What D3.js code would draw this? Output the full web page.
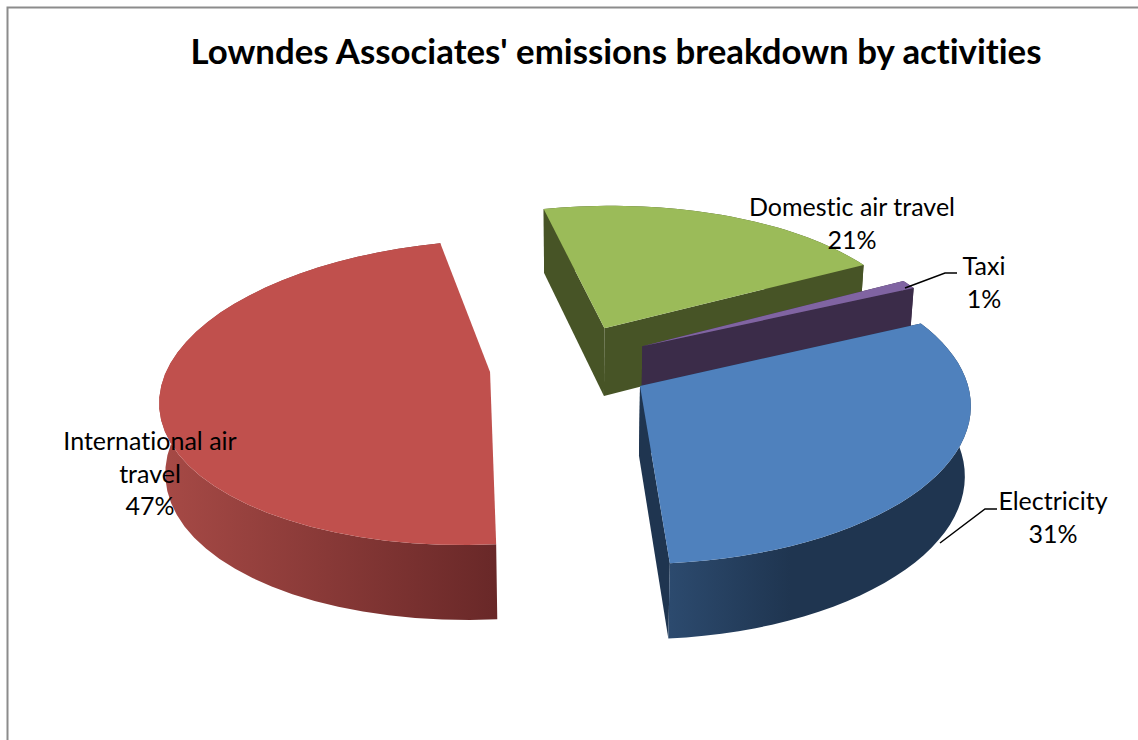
<html>
<meta charset="utf-8">

<head>
    <script src="https://d3js.org/d3.v7.min.js"></script>
    <style>
        html, body {
            margin: 0;
            background: #fff;
        }

        svg {
            display: block;
        }

        text {
            font-family: Lato, "Open Sans", sans-serif;
            font-variant-ligatures: none;
            fill: #000;
        }

        .sliceLabel {
            font-size: 25px;
            text-anchor: middle;
        }
    </style>
</head>

<body>
    <svg id="chart" width="1138" height="740"></svg>

    <script>
        // data, the labels show these rounded
        const categories = ["Electricity", "International air travel", "Domestic air travel", "Taxi"];
        const shares = [30.7, 47.49, 20.81, 1.0];

        // colours per category
        const topColors = ["#4f81bd", "#c0504d", "#9bbb59", "#8064a2"];
        const wallColors = ["#1f3550", "#6b2929", "#475426", "#3b2c49"];
        const rimLight = ["#2c4a6e", "#a74a46", "#475426", "#3b2c49"];
        const rimDark = ["#1f3550", "#692828", "#475426", "#3b2c49"];

        const svg = d3.select("svg#chart");

        // frame
        svg.append("path").attr("d", "M7.5,740V7.5H1138")
            .attr("fill", "none").attr("stroke", "#8c8c8c").attr("stroke-width", 2);

        svg.append("text").text("Lowndes Associates' emissions breakdown by activities")
            .attr("x", 616).attr("y", 64)
            .attr("text-anchor", "middle")
            .style("font-size", "34.8px").style("font-weight", "bold");

        // projection of the tilted pie, unit disc -> screen
        const cx = 570.5, cy = 365, rx = 322, ry = 148, persp = 0.134, shear = 12;
        const explodeX = 0.25, explodeY = 0.28, depth = 69, shrinkX = 0.985, shrinkY = 0.97;

        const project = function (X, Y, z) {
            const s = 1 / (1 + persp * Y);
            const fx = 1 - (1 - shrinkX) * z;
            const fy = 1 - (1 - shrinkY) * z;
            return [cx + (rx * X + shear * Y) * s * fx, cy - ry * Y * s * fy + depth * z * s];
        };

        const startDeg = 64.5;
        const pie = d3.pie().sort(null)
            .startAngle(startDeg * Math.PI / 180)
            .endAngle((startDeg + 360) * Math.PI / 180);
        const slices = pie(shares);
        slices.forEach((d, i) => { d.index = i; });

        const lineGen = d3.line();

        const rimPoints = function (d, z) {
            const mid = (d.startAngle + d.endAngle) / 2;
            const ox = explodeX * Math.sin(mid), oy = explodeY * Math.cos(mid);
            return d3.range(0, 41).map(k => {
                const a = d.startAngle + (d.endAngle - d.startAngle) * k / 40;
                return project(ox + Math.sin(a), oy + Math.cos(a), z);
            });
        };
        const apexPoint = function (d, z) {
            const mid = (d.startAngle + d.endAngle) / 2;
            return project(explodeX * Math.sin(mid), explodeY * Math.cos(mid), z);
        };

        // gradients along the outer wall
        const defs = svg.append("defs");
        slices.forEach((d, i) => {
            const xs = d3.extent(rimPoints(d, 0).filter(p => p[1] > cy), p => p[0]);
            const grad = defs.append("linearGradient")
                .attr("id", "rim" + i)
                .attr("gradientUnits", "userSpaceOnUse")
                .attr("x1", xs[0] || 0).attr("x2", xs[1] || 1)
                .attr("y1", 0).attr("y2", 0);
            grad.append("stop").attr("offset", 0).attr("stop-color", rimLight[i]);
            if (i == 0) {
                grad.append("stop").attr("offset", 0.4).attr("stop-color", rimDark[i]);
            }
            grad.append("stop").attr("offset", 1).attr("stop-color", rimDark[i]);
        });

        // far slices first
        const drawOrder = [2, 3, 1, 0];
        const sliceGroups = svg.selectAll("g.slice")
            .data(drawOrder.map(i => slices[i]))
            .join("g")
            .attr("class", "slice");

        sliceGroups.each(function (d) {
            const g = d3.select(this);
            const i = d.index;
            const topRim = rimPoints(d, 0);
            const botRim = rimPoints(d, 1);
            const a0 = apexPoint(d, 0), a1 = apexPoint(d, 1);

            // cut walls, the red slice's face away from the viewer
            if (i != 1) {
                [0, topRim.length - 1].forEach(e => {
                    g.append("path")
                        .attr("d", lineGen([a0, topRim[e], botRim[e], a1]) + "Z")
                        .attr("fill", wallColors[i]);
                });
            }
            // outer wall
            g.append("path")
                .attr("d", lineGen(topRim.concat(botRim.slice().reverse())) + "Z")
                .attr("fill", `url(#rim${i})`);
            // top face
            g.append("path")
                .attr("d", lineGen([a0].concat(topRim)) + "Z")
                .attr("fill", topColors[i]);
        });

        // leader lines
        const leaders = [
            [[940, 543], [985, 509], [997, 509]],
            [[905, 288], [945, 273], [957, 273]]
        ];
        svg.selectAll("path.leader").data(leaders).join("path")
            .attr("class", "leader")
            .attr("d", lineGen)
            .attr("fill", "none")
            .attr("stroke", "#000")
            .attr("stroke-width", 1.5);

        // labels: wrapped lines of category name, then share
        const labelLines = [["Electricity"], ["International air", "travel"], ["Domestic air travel"], ["Taxi"]];
        const labelX = [1053, 150, 852, 984];
        const labelY = [510, 450, 216, 275];
        const lineStep = 32.5;

        categories.forEach((c, i) => {
            const lines = labelLines[i].concat([Math.round(shares[i]) + "%"]);
            lines.forEach((t, k) => {
                svg.append("text")
                    .attr("class", "sliceLabel")
                    .attr("x", labelX[i])
                    .attr("y", labelY[i] + k * lineStep)
                    .text(t);
            });
        });
    </script>
</body>

</html>
